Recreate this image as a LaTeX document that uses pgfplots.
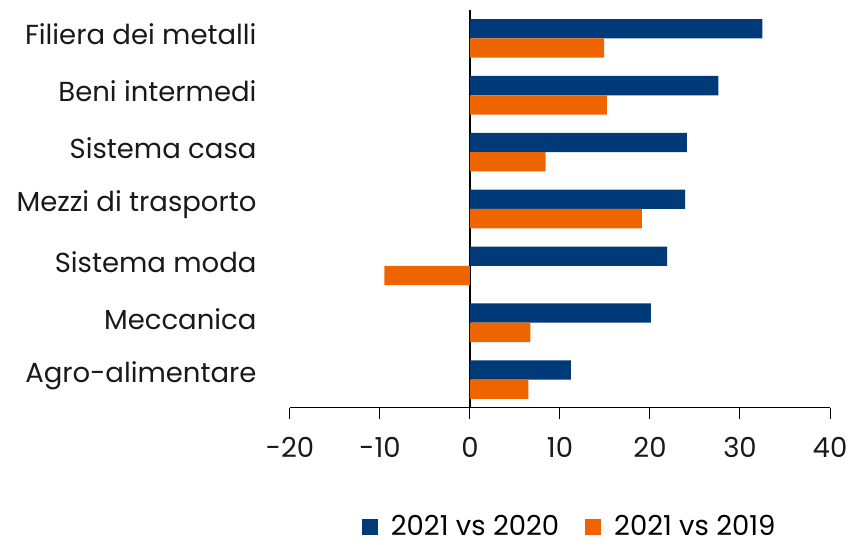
\documentclass[border=0pt]{standalone}
\usepackage{fontspec}
\setmainfont{Poppins}
\usepackage{pgfplots}
\pgfplotsset{compat=1.18}
\definecolor{cblue}{HTML}{003A78}
\definecolor{corange}{HTML}{EE6500}

\begin{document}
\begin{tikzpicture}
\begin{axis}[
  scale only axis, width=540pt, height=398pt,
  xbar, bar width=19.3pt,
  xmin=-20, xmax=40, ymin=-0.5, ymax=6.5,
  xtick={-20,-10,...,40},
  ytick={0,...,6},
  yticklabels={Agro-alimentare, Meccanica, Sistema moda, Mezzi di trasporto,
    Sistema casa, Beni intermedi, Filiera dei metalli},
  axis x line=bottom, axis y line=left,
  x axis line style={-, black, line width=1pt},
  y axis line style={draw=none},
  ytick style={draw=none},
  xtick style={black, line width=1pt},
  tick align=outside, major tick length=11pt,
  extra x ticks={0}, extra x tick labels={},
  extra x tick style={grid=major, major grid style={black, line width=1.3pt},
    major tick length=0pt},
  /pgf/number format/assume math mode=true,
  tick label style={font=\fontsize{27.5}{32}\selectfont, text=black!90},
  xticklabel style={anchor=north, yshift=-15pt},
  yticklabel style={xshift=-19pt, yshift=4pt},
  legend style={at={(axis description cs:0.518,-0.298)}, anchor=center,
    draw=none, fill=none, inner sep=1pt, font=\fontsize{27.5}{32}\selectfont, legend columns=2,
    /tikz/every odd column/.append style={column sep=11pt},
    /tikz/every even column/.append style={column sep=24pt}},
  legend image code/.code={\path[#1, draw=none] (0pt,-8pt) rectangle (16pt,8pt);},
]
\addplot[fill=cblue, draw=none, bar shift=9.65pt] coordinates {
  (11.2,0) (20.1,1) (21.9,2) (23.9,3) (24.1,4) (27.6,5) (32.5,6)
};
\addplot[fill=corange, draw=none, bar shift=-9.65pt] coordinates {
  (6.5,0) (6.7,1) (-9.5,2) (19.1,3) (8.4,4) (15.2,5) (14.9,6)
};
\legend{2021 vs 2020, 2021 vs 2019}
\end{axis}
\path (-290pt,-137pt) rectangle (561pt,408pt);
\end{tikzpicture}
\end{document}
